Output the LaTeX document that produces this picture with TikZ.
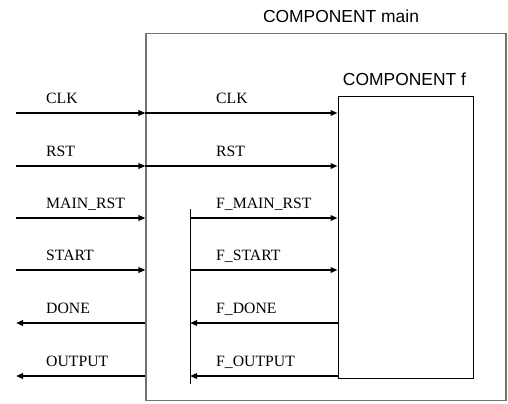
\documentclass[tikz,border=0pt]{standalone}
\usepackage{fontspec}
\setmainfont{Liberation Serif}
\setsansfont{Liberation Sans}
\usetikzlibrary{arrows.meta,positioning}

\begin{document}
\begin{tikzpicture}[x=1bp, y=-1bp,
  font=\fontsize{15.8}{18}\selectfont,
  comp/.style={draw, inner sep=0pt},
  title/.style={font=\sffamily\fontsize{17.5}{20}\selectfont, anchor=base, inner sep=0pt},
  sig/.style={line width=1.7bp, -{Triangle[length=7bp,width=5.5bp]}},
  lbl/.style={anchor=base west, inner sep=0pt}
]
  \useasboundingbox (0,0) rectangle (508,403);

  % the two components
  \node[comp, draw=black!55, line width=1.1bp,
    minimum width=360bp, minimum height=367bp] (mainBox) at (326,217) {};
  \node[comp, line width=0.9bp,
    minimum width=135bp, minimum height=282bp] (fBox) at (405.5,237) {};
  \node[title] (mainTitle) at (341,22.5) {COMPONENT main};
  \node[title] (fTitle) at (404.5,85) {COMPONENT f};

  % port rows
  \coordinate (clkIn) at (16,113);
  \coordinate (rstIn) at (16,166);
  \coordinate (mainRstIn) at (16,218);
  \coordinate (startIn) at (16,270);
  \coordinate (doneOut) at (16,323);
  \coordinate (outputOut) at (16,376);

  % internal bus line
  \coordinate (busTop) at (190,209);
  \coordinate (busBot) at (190,384);
  \draw[line width=1bp] (busTop) -- (busBot);

  % ports of main
  \draw[sig] (clkIn) -- (clkIn -| mainBox.west);
  \draw[sig] (rstIn) -- (rstIn -| mainBox.west);
  \draw[sig] (mainRstIn) -- (mainRstIn -| mainBox.west);
  \draw[sig] (startIn) -- (startIn -| mainBox.west);
  \draw[sig] (doneOut -| mainBox.west) -- (doneOut);
  \draw[sig] (outputOut -| mainBox.west) -- (outputOut);

  % ports of f
  \draw[sig] (clkIn -| mainBox.west) -- (clkIn -| fBox.west);
  \draw[sig] (rstIn -| mainBox.west) -- (rstIn -| fBox.west);
  \draw[sig] (mainRstIn -| busTop) -- (mainRstIn -| fBox.west);
  \draw[sig] (startIn -| busTop) -- (startIn -| fBox.west);
  \draw[sig] (doneOut -| fBox.west) -- (doneOut -| busTop);
  \draw[sig] (outputOut -| fBox.west) -- (outputOut -| busTop);

  % signal names
  \node[lbl] (clkLbl) at (46,103.5) {CLK};
  \node[lbl] (rstLbl) at (46,156.5) {RST};
  \node[lbl] (mainRstLbl) at (46,208.5) {MAIN\_RST};
  \node[lbl] (startLbl) at (46,260.5) {START};
  \node[lbl] (doneLbl) at (46,313.5) {DONE};
  \node[lbl] (outputLbl) at (46,366.5) {OUTPUT};

  \node[lbl] (fClkLbl) at (216,103.5) {CLK};
  \node[lbl] (fRstLbl) at (216,156.5) {RST};
  \node[lbl] (fMainRstLbl) at (216,208.5) {F\_MAIN\_RST};
  \node[lbl] (fStartLbl) at (216,260.5) {F\_START};
  \node[lbl] (fDoneLbl) at (216,313.5) {F\_DONE};
  \node[lbl] (fOutputLbl) at (216,366.5) {F\_OUTPUT};
\end{tikzpicture}
\end{document}
